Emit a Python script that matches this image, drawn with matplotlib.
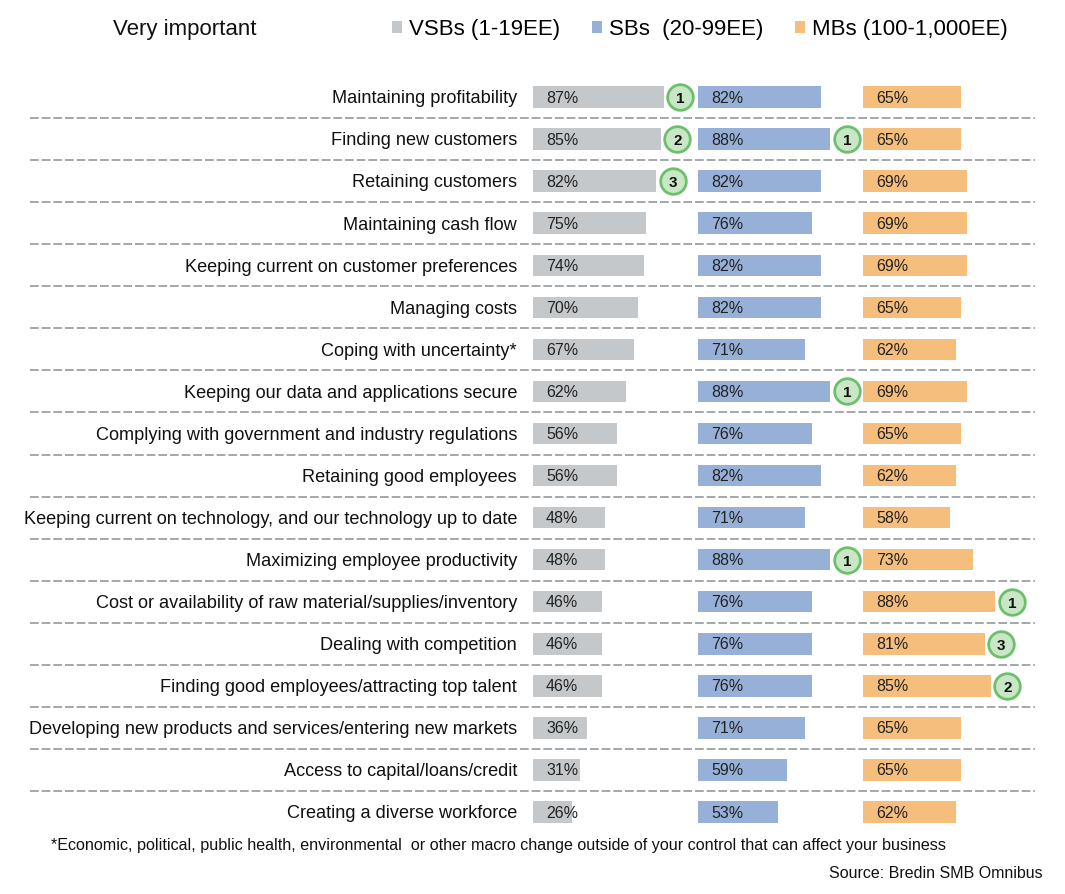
import matplotlib
matplotlib.use("Agg")
import matplotlib.pyplot as plt
from matplotlib.patches import Patch

plt.rcParams['font.family'] = ['Liberation Sans', 'DejaVu Sans']

categories = [
    "Maintaining profitability",
    "Finding new customers",
    "Retaining customers",
    "Maintaining cash flow",
    "Keeping current on customer preferences",
    "Managing costs",
    "Coping with uncertainty*",
    "Keeping our data and applications secure",
    "Complying with government and industry regulations",
    "Retaining good employees",
    "Keeping current on technology, and our technology up to date",
    "Maximizing employee productivity",
    "Cost or availability of raw material/supplies/inventory",
    "Dealing with competition",
    "Finding good employees/attracting top talent",
    "Developing new products and services/entering new markets",
    "Access to capital/loans/credit",
    "Creating a diverse workforce",
]
vsb = [87, 85, 82, 75, 74, 70, 67, 62, 56, 56, 48, 48, 46, 46, 46, 36, 31, 26]
sb = [82, 88, 82, 76, 82, 82, 71, 88, 76, 82, 71, 88, 76, 76, 76, 71, 59, 53]
mb = [65, 65, 69, 69, 69, 65, 62, 69, 65, 62, 58, 73, 88, 81, 85, 65, 65, 62]
# rank badges: (row index, rank)
vsb_ranks = [(0, 1), (1, 2), (2, 3)]
sb_ranks = [(1, 1), (7, 1), (11, 1)]
mb_ranks = [(12, 1), (13, 3), (14, 2)]
series_names = ["VSBs (1-19EE)", "SBs  (20-99EE)", "MBs (100-1,000EE)"]
colors = ["#c5c8cb", "#97b0d8", "#f6be7c"]

W, H = 1065, 895
fig = plt.figure(figsize=(W / 100, H / 100), dpi=100)

n = len(categories)
row_top_px = 77.0
row_h = 42.06
row_bot_px = row_top_px + n * row_h

def fy(px):
    return 1 - px / H

def fx(px):
    return px / W

ax_bottom = fy(row_bot_px)
ax_height = (row_bot_px - row_top_px) / H

# background axes for labels and separators
bg = fig.add_axes([fx(0), ax_bottom, 1, ax_height])
bg.set_xlim(0, W)
bg.set_ylim(n - 0.5, -0.5)
bg.axis('off')
for i in range(n - 1):
    bg.plot([30, 1035], [i + 0.5, i + 0.5], color="#a5a8ab", lw=1.4,
            linestyle=(0, (4.5, 1.5)), solid_capstyle='butt')
for i, c in enumerate(categories):
    bg.text(517, i + 0.02, c, ha='right', va='center', fontsize=13.1, color='#111111')

px_per_unit = 1.5
panels = [(533, 165, vsb, vsb_ranks), (698, 165, sb, sb_ranks), (863, 172, mb, mb_ranks)]
for (x0, wpx, vals, ranks), col in zip(panels, colors):
    ax = fig.add_axes([fx(x0), ax_bottom, fx(wpx), ax_height], sharey=bg)
    ax.set_xlim(0, wpx / px_per_unit)
    ax.set_ylim(n - 0.5, -0.5)
    ax.axis('off')
    ax.patch.set_alpha(0)
    ax.barh(range(n), vals, height=0.51, color=col, left=0)
    for i, v in enumerate(vals):
        ax.text(8.7, i, f"{v}%", ha='left', va='center', fontsize=11.5, color='#222222')
    for i, r in ranks:
        xv = vals[i] + 11.2
        ax.scatter([xv], [i], s=340, facecolor="#c9e7c6", edgecolor="#6dc06b",
                   linewidth=2, zorder=5, clip_on=False)
        ax.text(xv, i + 0.02, str(r), ha='center', va='center', fontsize=11,
                fontweight='bold', color='#111111', zorder=6)

fig.text(fx(113), fy(29), "Very important", ha='left', va='center', fontsize=16, color='#111111')

handles = [Patch(facecolor=c, edgecolor='none') for c in colors]
fig.legend(handles, series_names, loc='center left', bbox_to_anchor=(fx(392), fy(30)),
           ncol=3, frameon=False, fontsize=16, handlelength=0.45, handleheight=0.45,
           handletextpad=0.3, columnspacing=1.45, borderaxespad=0, borderpad=0)

fig.text(fx(51), fy(846),
         "*Economic, political, public health, environmental  or other macro change outside of your control that can affect your business",
         ha='left', va='center', fontsize=11.6, color='#111111')
fig.text(fx(1043), fy(874), "Source: Bredin SMB Omnibus", ha='right', va='center',
         fontsize=11.5, color='#111111')

fig.savefig("out.png", dpi=100, facecolor='white')
